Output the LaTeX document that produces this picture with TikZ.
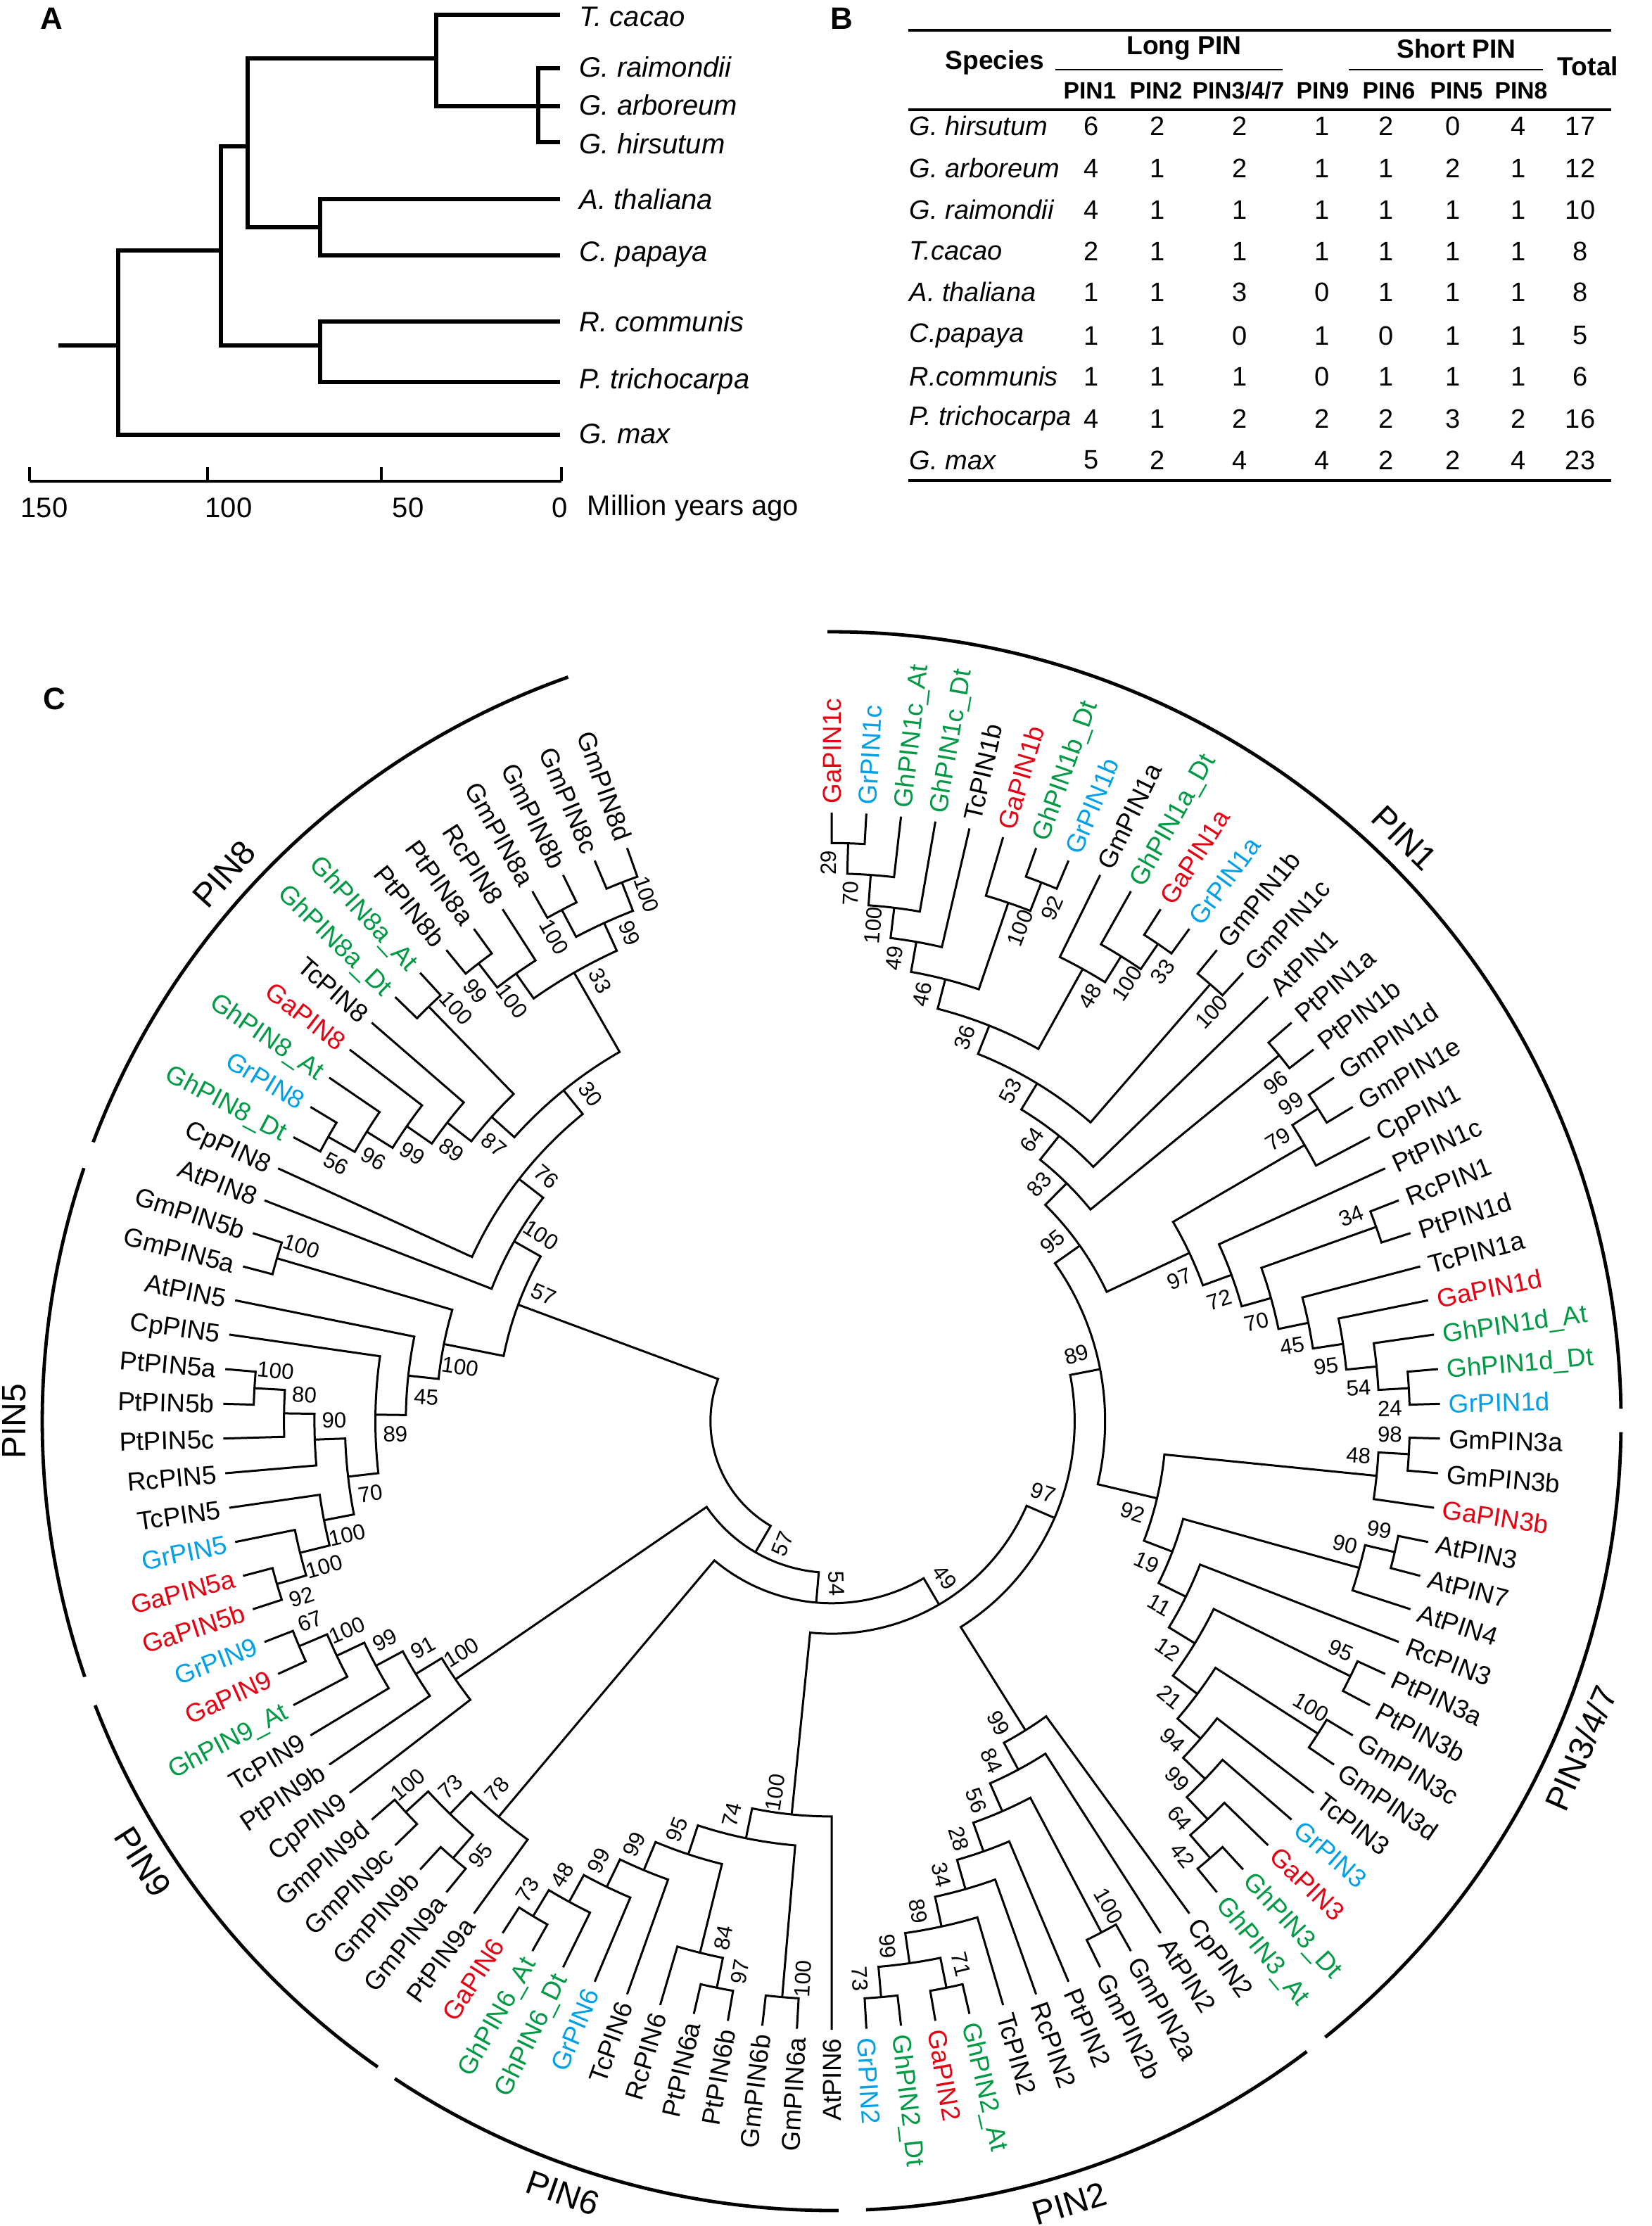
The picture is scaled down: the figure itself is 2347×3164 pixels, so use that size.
\documentclass[tikz,border=0pt]{standalone}
\usepackage{fontspec}
\setmainfont{Liberation Sans}
\definecolor{gred}{RGB}{230,0,18}
\definecolor{gblue}{RGB}{0,160,233}
\definecolor{ggreen}{RGB}{0,153,68}
\definecolor{gk}{RGB}{0,0,0}
\def\Dg{3.2727273}
\def\Rl{865}
\def\Rs{43.3}
\def\Rt{877}
\newcommand\Lf[3]{%
  \pgfmathsetmacro\lfa{90-(#1-1)*\Dg}%
  \expandafter\xdef\csname A@L#1\endcsname{\lfa}%
  \expandafter\xdef\csname D@L#1\endcsname{0}%
  \expandafter\gdef\csname B@L#1\endcsname{}%
  \ifdim\lfa pt>-89.99pt
    \node[leaflab,text=#2,anchor=west,rotate=\lfa] (L#1) at (\lfa:\Rt) {#3};%
  \else
    \pgfmathsetmacro\lfr{\lfa+180}%
    \node[leaflab,text=#2,anchor=east,rotate=\lfr] (L#1) at (\lfa:\Rt) {#3};%
  \fi}
\newcommand\BsL[4]{%
  \edef\bst{\csname B@#1\endcsname}%
  \ifx\bst\empty\else
    \pgfmathsetmacro\blr{#3-28}%
    \pgfmathsetmacro\bla{#2+(#4)*27/\blr*57.29578}%
    \ifdim\bla pt>-89.99pt \edef\blrot{\bla}\else\pgfmathsetmacro\blrot{\bla+180}\fi
    \node[bslab,rotate=\blrot] (b#1) at (\bla:\blr) {\bst};%
  \fi}
\newcommand\Nd[4]{%
  \pgfmathsetmacro\ndpa{\csname A@#2\endcsname}%
  \pgfmathsetmacro\ndpb{\csname A@#3\endcsname}%
  \pgfmathtruncatemacro\ndda{\csname D@#2\endcsname}%
  \pgfmathtruncatemacro\nddb{\csname D@#3\endcsname}%
  \pgfmathtruncatemacro\nddn{max(\ndda,\nddb)+1}%
  \pgfmathsetmacro\ndrn{\Rl-\nddn*\Rs}%
  \pgfmathsetmacro\ndra{\Rl-\ndda*\Rs}%
  \pgfmathsetmacro\ndrb{\Rl-\nddb*\Rs}%
  \pgfmathsetmacro\ndan{(\ndpa+\ndpb)/2}%
  \draw[tree] (\ndpa:\ndra) -- (\ndpa:\ndrn) arc[start angle=\ndpa,end angle=\ndpb,radius=\ndrn] -- (\ndpb:\ndrb);%
  \expandafter\xdef\csname A@#1\endcsname{\ndan}%
  \expandafter\xdef\csname D@#1\endcsname{\nddn}%
  \expandafter\gdef\csname B@#1\endcsname{#4}%
  \ifdim\ndpa pt>\ndpb pt
    \BsL{#2}{\ndpa}{\ndra}{1}\BsL{#3}{\ndpb}{\ndrb}{-1}%
  \else
    \BsL{#2}{\ndpa}{\ndra}{-1}\BsL{#3}{\ndpb}{\ndrb}{1}%
  \fi
  \coordinate (#1) at (\ndan:\ndrn);}
\begin{document}
\begin{tikzpicture}[x=0.25pt,y=0.25pt,
  tree/.style={line width=0.75pt},
  clade/.style={line width=1.2pt},
  leaflab/.style={inner sep=0pt,font=\fontsize{9.2}{10}\selectfont,text height=6.8pt,text depth=0pt},
  bslab/.style={inner sep=0pt,font=\fontsize{7.8}{9}\selectfont,text height=5.6pt,text depth=0pt},
  cladelab/.style={inner sep=0pt,font=\fontsize{12}{14}\selectfont},
  tA/.style={line width=1.7pt},
  spA/.style={inner sep=0pt,anchor=west,font=\fontsize{10}{12}\selectfont\itshape},
  axl/.style={inner sep=0pt,font=\fontsize{10}{12}\selectfont},
  pletter/.style={inner sep=0pt,font=\fontsize{11}{13}\selectfont\bfseries},
  hb/.style={inner sep=0pt,font=\fontsize{9.3}{11}\selectfont\bfseries},
  hc/.style={inner sep=0pt,font=\fontsize{8.4}{10}\selectfont\bfseries},
  tb/.style={inner sep=0pt,font=\fontsize{9.5}{11}\selectfont},
  tsp/.style={inner sep=0pt,anchor=west,font=\fontsize{9.5}{11}\selectfont\itshape},
  rule/.style={line width=0.9pt}]
\fill[white] (0,0) rectangle (2347,-3164);
\useasboundingbox (0,0) rectangle (2347,-3164);
% ---------------- Panel A ----------------
\node[pletter] (pA) at (73,-26) {A};
\draw[tA] (796,-21) -- (620,-21) -- (620,-151) -- (796,-151);
\draw[tA] (796,-97) -- (765,-97) -- (765,-202) -- (796,-202);
\draw[tA] (620,-83) -- (352,-83) -- (352,-323) -- (455,-323);
\draw[tA] (796,-283) -- (455,-283) -- (455,-363) -- (796,-363);
\draw[tA] (352,-208) -- (314,-208) -- (314,-491) -- (455,-491);
\draw[tA] (796,-457) -- (455,-457) -- (455,-543) -- (796,-543);
\draw[tA] (314,-356) -- (168,-356) -- (168,-618) -- (796,-618);
\draw[tA] (83,-491) -- (168,-491);
\node[spA] (sTc) at (823,-24) {T. cacao};
\node[spA] (sGr) at (823,-95) {G. raimondii};
\node[spA] (sGa) at (823,-149) {G. arboreum};
\node[spA] (sGh) at (823,-204) {G. hirsutum};
\node[spA] (sAt) at (823,-283) {A. thaliana};
\node[spA] (sCp) at (823,-362) {C. papaya};
\node[spA] (sRc) at (823,-457) {R. communis};
\node[spA] (sPt) at (823,-542) {P. trichocarpa};
\node[spA] (sGm) at (823,-617) {G. max};
\draw[line width=0.8pt] (42,-684) -- (798,-684);
\foreach \x in {42,295,542,798} \draw[line width=0.8pt] (\x,-684) -- (\x,-664);
\node[axl] (t150) at (63,-722) {150};
\node[axl] (t100) at (325,-722) {100};
\node[axl] (t50) at (580,-722) {50};
\node[axl] (t0) at (796,-722) {0};
\node[axl,anchor=west] (tmya) at (834,-722) {Million years ago};
% ---------------- Panel B ----------------
\node[pletter] (pB) at (1196,-26) {B};
\draw[rule] (1291,-43) -- (2290,-43);
\node[hb] (hSp) at (1414,-89) {Species};
\node[hb] (hLong) at (1683,-69) {Long PIN};
\draw[line width=0.7pt] (1500,-99) -- (1823,-99);
\node[hb] (hShort) at (2070,-69) {Short PIN};
\draw[line width=0.7pt] (1917,-99) -- (2193,-99);
\node[hb] (hTot) at (2257,-94) {Total};
\node[hc] (hP1) at (1549,-129) {PIN1};
\node[hc] (hP2) at (1643,-129) {PIN2};
\node[hc] (hP3) at (1760,-129) {PIN3/4/7};
\node[hc] (hP9) at (1880,-129) {PIN9};
\node[hc] (hP6) at (1974,-129) {PIN6};
\node[hc] (hP5) at (2070,-129) {PIN5};
\node[hc] (hP8) at (2162,-129) {PIN8};
\draw[rule] (1291,-156) -- (2290,-156);
\foreach \y/\s/\a/\b/\c/\d/\e/\f/\g/\t in {
  179/G. hirsutum/6/2/2/1/2/0/4/17,
  239/G. arboreum/4/1/2/1/1/2/1/12,
  298/G. raimondii/4/1/1/1/1/1/1/10,
  357/T.cacao/2/1/1/1/1/1/1/8,
  415/A. thaliana/1/1/3/0/1/1/1/8,
  477/C.papaya/1/1/0/1/0/1/1/5,
  535/R.communis/1/1/1/0/1/1/1/6,
  595/P. trichocarpa/4/1/2/2/2/3/2/16,
  654/G. max/5/2/4/4/2/2/4/23}{
  \node[tsp] at (1292,-\y) {\s};
  \node[tb] at (1551,-\y) {\a};
  \node[tb] at (1645,-\y) {\b};
  \node[tb] at (1762,-\y) {\c};
  \node[tb] at (1879,-\y) {\d};
  \node[tb] at (1970,-\y) {\e};
  \node[tb] at (2065,-\y) {\f};
  \node[tb] at (2158,-\y) {\g};
  \node[tb] at (2246,-\y) {\t};
}
\draw[rule] (1291,-683) -- (2290,-683);
% ---------------- Panel C ----------------
\node[pletter] (pC) at (77,-993) {C};
\begin{scope}[shift={(1182,-2020)}]
\Lf{1}{gred}{GaPIN1c}
\Lf{2}{gblue}{GrPIN1c}
\Lf{3}{ggreen}{GhPIN1c\_At}
\Lf{4}{ggreen}{GhPIN1c\_Dt}
\Lf{5}{gk}{TcPIN1b}
\Lf{6}{gred}{GaPIN1b}
\Lf{7}{ggreen}{GhPIN1b\_Dt}
\Lf{8}{gblue}{GrPIN1b}
\Lf{9}{gk}{GmPIN1a}
\Lf{10}{ggreen}{GhPIN1a\_Dt}
\Lf{11}{gred}{GaPIN1a}
\Lf{12}{gblue}{GrPIN1a}
\Lf{13}{gk}{GmPIN1b}
\Lf{14}{gk}{GmPIN1c}
\Lf{15}{gk}{AtPIN1}
\Lf{16}{gk}{PtPIN1a}
\Lf{17}{gk}{PtPIN1b}
\Lf{18}{gk}{GmPIN1d}
\Lf{19}{gk}{GmPIN1e}
\Lf{20}{gk}{CpPIN1}
\Lf{21}{gk}{PtPIN1c}
\Lf{22}{gk}{RcPIN1}
\Lf{23}{gk}{PtPIN1d}
\Lf{24}{gk}{TcPIN1a}
\Lf{25}{gred}{GaPIN1d}
\Lf{26}{ggreen}{GhPIN1d\_At}
\Lf{27}{ggreen}{GhPIN1d\_Dt}
\Lf{28}{gblue}{GrPIN1d}
\Lf{29}{gk}{GmPIN3a}
\Lf{30}{gk}{GmPIN3b}
\Lf{31}{gred}{GaPIN3b}
\Lf{32}{gk}{AtPIN3}
\Lf{33}{gk}{AtPIN7}
\Lf{34}{gk}{AtPIN4}
\Lf{35}{gk}{RcPIN3}
\Lf{36}{gk}{PtPIN3a}
\Lf{37}{gk}{PtPIN3b}
\Lf{38}{gk}{GmPIN3c}
\Lf{39}{gk}{GmPIN3d}
\Lf{40}{gk}{TcPIN3}
\Lf{41}{gblue}{GrPIN3}
\Lf{42}{gred}{GaPIN3}
\Lf{43}{ggreen}{GhPIN3\_Dt}
\Lf{44}{ggreen}{GhPIN3\_At}
\Lf{45}{gk}{CpPIN2}
\Lf{46}{gk}{AtPIN2}
\Lf{47}{gk}{GmPIN2a}
\Lf{48}{gk}{GmPIN2b}
\Lf{49}{gk}{PtPIN2}
\Lf{50}{gk}{RcPIN2}
\Lf{51}{gk}{TcPIN2}
\Lf{52}{ggreen}{GhPIN2\_At}
\Lf{53}{gred}{GaPIN2}
\Lf{54}{ggreen}{GhPIN2\_Dt}
\Lf{55}{gblue}{GrPIN2}
\Lf{56}{gk}{AtPIN6}
\Lf{57}{gk}{GmPIN6a}
\Lf{58}{gk}{GmPIN6b}
\Lf{59}{gk}{PtPIN6b}
\Lf{60}{gk}{PtPIN6a}
\Lf{61}{gk}{RcPIN6}
\Lf{62}{gk}{TcPIN6}
\Lf{63}{gblue}{GrPIN6}
\Lf{64}{ggreen}{GhPIN6\_Dt}
\Lf{65}{ggreen}{GhPIN6\_At}
\Lf{66}{gred}{GaPIN6}
\Lf{67}{gk}{PtPIN9a}
\Lf{68}{gk}{GmPIN9a}
\Lf{69}{gk}{GmPIN9b}
\Lf{70}{gk}{GmPIN9c}
\Lf{71}{gk}{GmPIN9d}
\Lf{72}{gk}{CpPIN9}
\Lf{73}{gk}{PtPIN9b}
\Lf{74}{gk}{TcPIN9}
\Lf{75}{ggreen}{GhPIN9\_At}
\Lf{76}{gred}{GaPIN9}
\Lf{77}{gblue}{GrPIN9}
\Lf{78}{gred}{GaPIN5b}
\Lf{79}{gred}{GaPIN5a}
\Lf{80}{gblue}{GrPIN5}
\Lf{81}{gk}{TcPIN5}
\Lf{82}{gk}{RcPIN5}
\Lf{83}{gk}{PtPIN5c}
\Lf{84}{gk}{PtPIN5b}
\Lf{85}{gk}{PtPIN5a}
\Lf{86}{gk}{CpPIN5}
\Lf{87}{gk}{AtPIN5}
\Lf{88}{gk}{GmPIN5a}
\Lf{89}{gk}{GmPIN5b}
\Lf{90}{gk}{AtPIN8}
\Lf{91}{gk}{CpPIN8}
\Lf{92}{ggreen}{GhPIN8\_Dt}
\Lf{93}{gblue}{GrPIN8}
\Lf{94}{ggreen}{GhPIN8\_At}
\Lf{95}{gred}{GaPIN8}
\Lf{96}{gk}{TcPIN8}
\Lf{97}{ggreen}{GhPIN8a\_Dt}
\Lf{98}{ggreen}{GhPIN8a\_At}
\Lf{99}{gk}{PtPIN8b}
\Lf{100}{gk}{PtPIN8a}
\Lf{101}{gk}{RcPIN8}
\Lf{102}{gk}{GmPIN8a}
\Lf{103}{gk}{GmPIN8b}
\Lf{104}{gk}{GmPIN8c}
\Lf{105}{gk}{GmPIN8d}
% PIN1
\Nd{p29}{L1}{L2}{29}
\Nd{p70}{p29}{L3}{70}
\Nd{p100a}{p70}{L4}{100}
\Nd{p49}{p100a}{L5}{49}
\Nd{p92}{L7}{L8}{92}
\Nd{p100b}{L6}{p92}{100}
\Nd{p46}{p49}{p100b}{46}
\Nd{p33}{L11}{L12}{33}
\Nd{p100c}{L10}{p33}{100}
\Nd{p48}{L9}{p100c}{48}
\Nd{p36}{p46}{p48}{36}
\Nd{p100d}{L13}{L14}{100}
\Nd{p53}{p36}{p100d}{53}
\Nd{p64}{p53}{L15}{64}
\Nd{p96}{L16}{L17}{96}
\Nd{p83}{p64}{p96}{83}
\Nd{p99}{L18}{L19}{99}
\Nd{p79}{p99}{L20}{79}
\Nd{p24}{L27}{L28}{24}
\Nd{p54}{L26}{p24}{54}
\Nd{p95x}{L25}{p54}{95}
\Nd{p45}{L24}{p95x}{45}
\Nd{p34}{L22}{L23}{34}
\Nd{p70b}{p34}{p45}{70}
\Nd{p72}{L21}{p70b}{72}
\Nd{p97}{p79}{p72}{97}
\Nd{p95}{p83}{p97}{95}
% PIN3/4/7
\Nd{q98}{L29}{L30}{98}
\Nd{q48}{q98}{L31}{48}
\Nd{q99}{L32}{L33}{99}
\Nd{q90}{q99}{L34}{90}
\Nd{q95}{L36}{L37}{95}
\Nd{q100}{L38}{L39}{100}
\Nd{q42}{L43}{L44}{42}
\Nd{q64}{L42}{q42}{64}
\Nd{q99b}{L41}{q64}{99}
\Nd{q94}{L40}{q99b}{94}
\Nd{q21}{q100}{q94}{21}
\Nd{q12}{q95}{q21}{12}
\Nd{q11}{L35}{q12}{11}
\Nd{q19}{q90}{q11}{19}
\Nd{q92}{q48}{q19}{92}
% PIN2
\Nd{r100}{L47}{L48}{100}
\Nd{r73}{L54}{L55}{73}
\Nd{r71}{L52}{L53}{71}
\Nd{r99a}{r71}{r73}{99}
\Nd{r89}{L51}{r99a}{89}
\Nd{r34}{L50}{r89}{34}
\Nd{r28}{L49}{r34}{28}
\Nd{r56}{r100}{r28}{56}
\Nd{r84}{L46}{r56}{84}
\Nd{r99}{L45}{r84}{99}
% PIN6
\Nd{s100a}{L57}{L58}{100}
\Nd{s97}{L59}{L60}{97}
\Nd{s84}{s97}{L61}{84}
\Nd{s73}{L65}{L66}{73}
\Nd{s48}{L64}{s73}{48}
\Nd{s99a}{L63}{s48}{99}
\Nd{s99b}{L62}{s99a}{99}
\Nd{s95}{s84}{s99b}{95}
\Nd{s74}{s100a}{s95}{74}
\Nd{s100}{L56}{s74}{100}
% PIN9
\Nd{t95}{L68}{L69}{95}
\Nd{t100}{L70}{L71}{100}
\Nd{t73}{t95}{t100}{73}
\Nd{t78}{L67}{t73}{78}
\Nd{u67}{L76}{L77}{67}
\Nd{u100a}{L75}{u67}{100}
\Nd{u99}{L74}{u100a}{99}
\Nd{u91}{L73}{u99}{91}
\Nd{u100}{L72}{u91}{100}
% PIN5
\Nd{v92}{L78}{L79}{92}
\Nd{v100a}{v92}{L80}{100}
\Nd{v100b}{v100a}{L81}{100}
\Nd{v100c}{L84}{L85}{100}
\Nd{v80}{L83}{v100c}{80}
\Nd{v90}{L82}{v80}{90}
\Nd{v70}{v100b}{v90}{70}
\Nd{v89}{v70}{L86}{89}
\Nd{v45}{v89}{L87}{45}
\Nd{v100d}{L88}{L89}{100}
\Nd{v100e}{v45}{v100d}{100}
% PIN8
\Nd{w56}{L92}{L93}{56}
\Nd{w96}{w56}{L94}{96}
\Nd{w99a}{w96}{L95}{99}
\Nd{w89}{w99a}{L96}{89}
\Nd{w100x}{L97}{L98}{100}
\Nd{w87}{w89}{w100x}{87}
\Nd{w99b}{L99}{L100}{99}
\Nd{w100y}{w99b}{L101}{100}
\Nd{w100z}{L102}{L103}{100}
\Nd{w100w}{L104}{L105}{100}
\Nd{w99c}{w100z}{w100w}{99}
\Nd{w33}{w100y}{w99c}{33}
\Nd{w30}{w87}{w33}{30}
\Nd{w76}{L91}{w30}{76}
\Nd{w100}{L90}{w76}{100}
% backbone
\Nd{X}{v100e}{w100}{57}
\Nd{N89}{p95}{q92}{89}
\Nd{N97}{N89}{r99}{97}
\Nd{N49}{N97}{s100}{49}
\Nd{N54}{N49}{t78}{54}
\Nd{N57}{N54}{u100}{57}
\Nd{Root}{N57}{X}{}
% clade arcs
\foreach \s/\e in {90.3/0.9,-0.8/-51.3,-53/-87.5,-89.5/-123.6,-125.1/-158.9,-161.1/-198.7,-200.7/-250.5}
  \draw[clade] (\s:1122) arc[start angle=\s,end angle=\e,radius=1122];
\node[cladelab,rotate=-44.5] (cPIN1) at (45.5:1162) {PIN1};
\node[cladelab,rotate=66.4] (cPIN3) at (-23.6:1162) {PIN3/4/7};
\node[cladelab,rotate=16.9] (cPIN2) at (-73.1:1162) {PIN2};
\node[cladelab,rotate=-19.2] (cPIN6) at (-109.2:1162) {PIN6};
\node[cladelab,rotate=-57.4] (cPIN9) at (-147.4:1162) {PIN9};
\node[cladelab,rotate=90] (cPIN5) at (-180:1162) {PIN5};
\node[cladelab,rotate=48] (cPIN8) at (-222:1162) {PIN8};
\end{scope}
\end{tikzpicture}
\end{document}
